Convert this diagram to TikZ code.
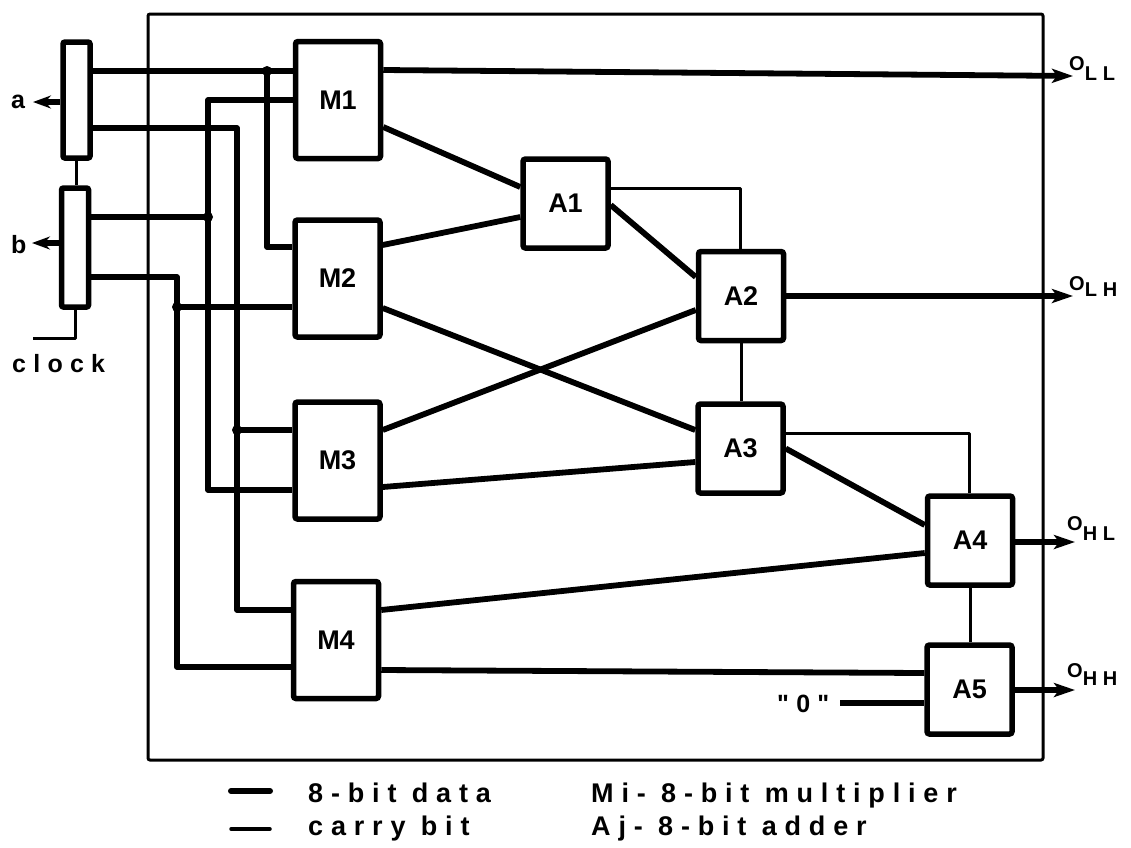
\documentclass[tikz,border=0pt]{standalone}
\usepackage{fontspec}
\setmainfont{Liberation Sans}
\newfontfamily\boxf{Liberation Sans}
\newfontfamily\lettf[LetterSpace=29]{Liberation Sans}
\usetikzlibrary{arrows.meta}
\begin{document}
\begin{tikzpicture}[x=1pt,y=-1pt,
  blk/.style={draw, line width=5.5pt, rounded corners=2.5pt, inner sep=0pt,
    font=\boxf\bfseries\fontsize{27}{27}\selectfont},
  mblk/.style={blk, minimum width=85pt, minimum height=117pt},
  ablk/.style={blk, minimum width=85pt, minimum height=89pt},
  reg/.style={draw, line width=5.5pt, rounded corners=2pt, inner sep=0pt,
    minimum width=27pt, minimum height=116pt},
  data/.style={line width=5.8pt, line join=round},
  carry/.style={line width=3pt, line join=round},
  frame/.style={line width=3pt, rounded corners=2pt},
  tipo/.style={-{Stealth[length=21pt,width=14pt,inset=5pt]}},
  tipi/.style={-{Stealth[length=18pt,width=13pt,inset=6pt]}},
  lbl/.style={inner sep=0pt, anchor=base west, font=\lettf\bfseries\fontsize{27}{27}\selectfont},
  olbl/.style={inner sep=0pt, anchor=base west, font=\lettf\bfseries\fontsize{20}{20}\selectfont},
  inl/.style={inner sep=0pt, anchor=base west, font=\lettf\bfseries\fontsize{25}{25}\selectfont},
]
\useasboundingbox (0,0) rectangle (1131,847);

% chip boundary
\draw[frame] (148,14) rectangle (1043,760);

% registers
\node[reg] (ra) at (76.5,100) {};
\node[reg, minimum height=119pt] (rb) at (75,247.5) {};

% multipliers
\node[mblk] (M1) at (338,100) {M1};
\node[mblk] (M2) at (337.5,278.5) {M2};
\node[mblk] (M3) at (337.5,460.5) {M3};
\node[mblk] (M4) at (336,640) {M4};

% adders
\node[ablk] (A1) at (565.5,203.5) {A1};
\node[ablk] (A2) at (741,296) {A2};
\node[ablk] (A3) at (740.5,448.5) {A3};
\node[ablk] (A4) at (970,540.5) {A4};
\node[ablk] (A5) at (969.5,689.5) {A5};

% wiring coordinates
\coordinate (ja)  at (267,71);
\coordinate (ja2) at (267,247);
\coordinate (ab1) at (237,128);
\coordinate (ab2) at (237,430);
\coordinate (ab3) at (237,610);
\coordinate (bt1) at (208,100);
\coordinate (bt2) at (208,217);
\coordinate (bt3) at (208,490);
\coordinate (bb1) at (177,277);
\coordinate (bb2) at (177,307);
\coordinate (bb3) at (177,667);

% register a outputs
\draw[data] (ra.east |- ja) -- (M1.west |- ja);
\draw[data] (ja) -- (ja2) -- (M2.west |- ja2);
\draw[data] (ra.east |- ab1) -- (ab1) -- (ab3) -- (M4.west |- ab3);
\draw[data] (ab2) -- (M3.west |- ab2);
% register b outputs
\draw[data] (rb.east |- bt2) -- (bt2);
\draw[data] (M1.west |- bt1) -- (bt1) -- (bt3) -- (M3.west |- bt3);
\draw[data] (rb.east |- bb1) -- (bb1) -- (bb3) -- (M4.west |- bb3);
\draw[data] (bb2) -- (M2.west |- bb2);
\foreach \j in {ja,bt2,bb2,ab2} \fill (\j) circle (5pt);

% inputs
\coordinate (ina) at (33,102);
\coordinate (inb) at (32,243);
\draw[data,tipi] (ra.west |- ina) -- (ina);
\draw[data,tipi] (rb.west |- inb) -- (inb);
\node[inl] (la) at (11,108) {a};
\node[inl] (lb) at (11,253) {b};

% register link and clock
\draw[carry] (ra.south) -- (ra.south |- rb.north);
\coordinate (clk) at (33,338);
\draw[carry] (rb.south) -- (rb.south |- clk) -- (clk);
\node[inl] (lclk) at (12,372) {clock};

% multiplier to adder data paths
\draw[data] ([yshift=-27pt]M1.east) -- ([yshift=16.5pt]A1.west);
\draw[data] ([yshift=33.5pt]M2.east) -- ([yshift=-13.5pt]A1.west);
\draw[data] ([yshift=-29.5pt]M2.east) -- ([yshift=18.5pt]A3.west);
\draw[data] ([yshift=30.5pt]M3.east) -- ([yshift=-14pt]A2.west);
\draw[data] ([yshift=-26.5pt]M3.east) -- ([yshift=-13.5pt]A3.west);
\draw[data] ([yshift=-1.5pt]A1.east) -- ([yshift=19pt]A2.west);
\draw[data] (A3.east) -- ([yshift=15.5pt]A4.west);
\draw[data] ([yshift=30pt]M4.east) -- ([yshift=-12.5pt]A4.west);
\draw[data] ([yshift=-30pt]M4.east) -- ([yshift=16.5pt]A5.west);

% zero input
\coordinate (z) at (840,703);
\draw[data] (z) -- (A5.west |- z);
\node[inl] (lz) at (777,712) {"0"};

% carry chain
\coordinate (c1) at (740,188);
\draw[carry] (A1.east |- c1) -- (c1) -- (c1 |- A2.north);
\draw[carry] (A2.south) -- (A2.south |- A3.north);
\coordinate (c3) at (969,433);
\draw[carry] (A3.east |- c3) -- (c3) -- (c3 |- A4.north);
\draw[carry] (A4.south) -- (A4.south |- A5.north);

% outputs
\coordinate (oll) at (1073,76);
\coordinate (olh) at (1073,296);
\coordinate (ohl) at (1075,542);
\coordinate (ohh) at (1075,690);
\draw[data,tipo] ([yshift=30pt]M1.east) -- (oll);
\draw[data,tipo] (A2.east |- olh) -- (olh);
\draw[data,tipo] (A4.east |- ohl) -- (ohl);
\draw[data,tipo] (A5.east |- ohh) -- (ohh);
\node[olbl] (loll) at (1069,70) {O\raisebox{-10pt}{LL}};
\node[olbl] (lolh) at (1069,290) {O\raisebox{-6pt}{LH}};
\node[olbl] (lohl) at (1067,530) {O\raisebox{-10pt}{HL}};
\node[olbl] (lohh) at (1067,677) {O\raisebox{-8pt}{HH}};

% legend
\draw[line width=6pt, line cap=round] (231,791) -- (270,791);
\draw[line width=3.5pt, line cap=round] (231,829) -- (270,829);
\node[lbl] (l1) at (308,802) {8-bit data};
\node[lbl] (l2) at (308,835) {carry bit};
\node[lbl] (l3) at (591,802) {Mi- 8-bit multiplier};
\node[lbl] (l4) at (591,835) {Aj- 8-bit adder};
\end{tikzpicture}
\end{document}
